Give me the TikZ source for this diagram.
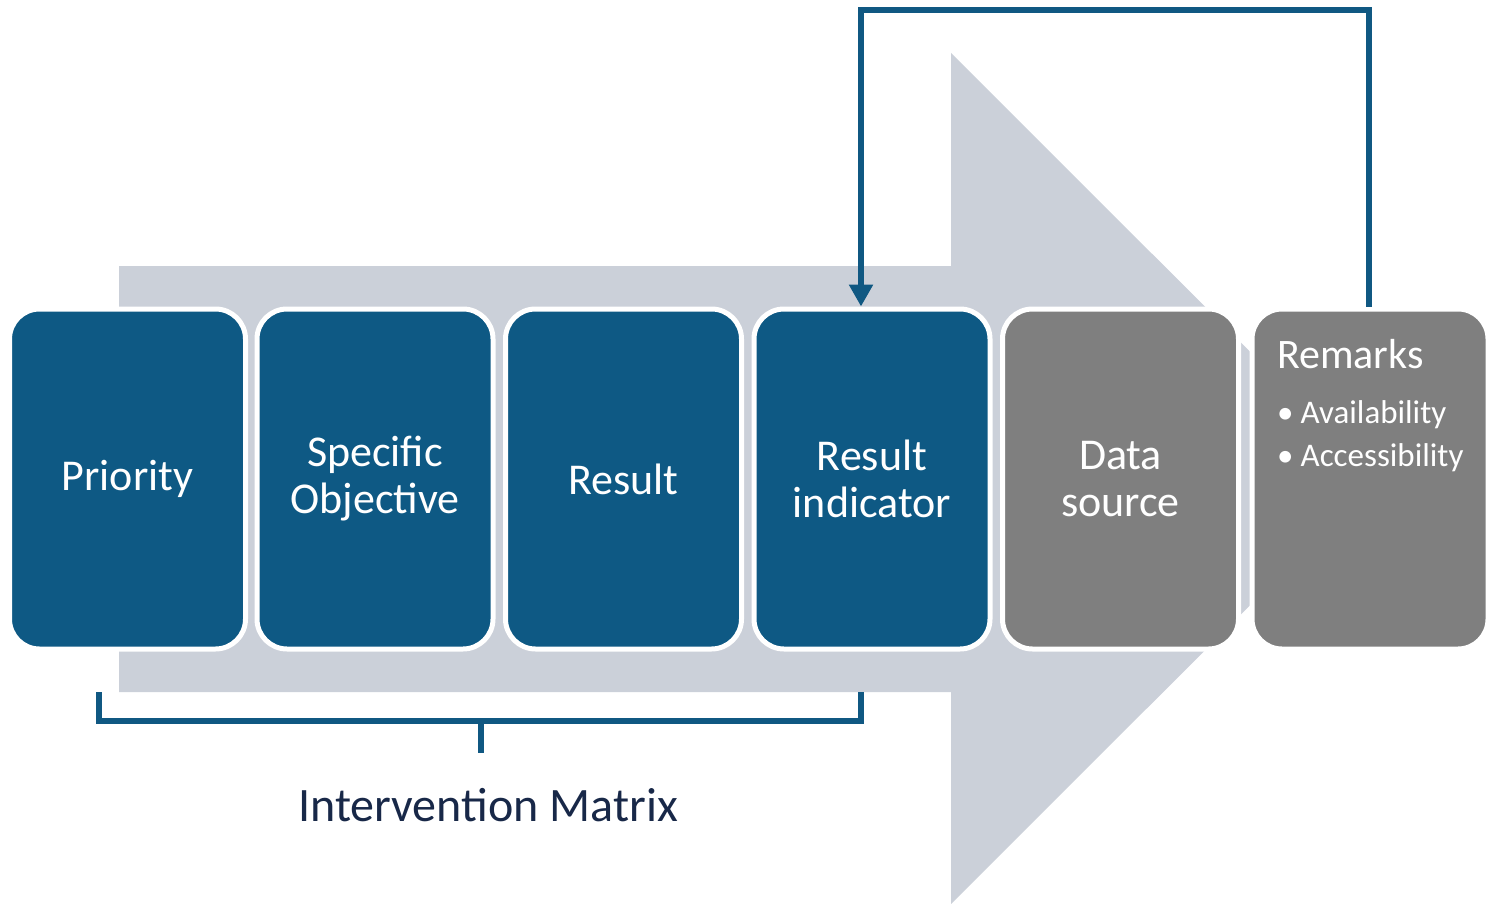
\documentclass[tikz,border=0pt]{standalone}
\usepackage{fontspec}
\setmainfont{Carlito}
\usetikzlibrary{arrows.meta}
\definecolor{boxblue}{RGB}{14,89,132}
\definecolor{boxgray}{RGB}{127,127,127}
\definecolor{arrowgray}{RGB}{203,208,217}
\definecolor{navytext}{RGB}{24,40,72}
\definecolor{connblue}{RGB}{16,88,130}
\tikzset{
  card/.style={draw=white, line width=5pt, rounded corners=30pt,
    minimum width=236pt, minimum height=340pt, inner sep=0pt,
    text=white, align=center, font=\fontsize{44}{47}\selectfont},
  bluecard/.style={card, fill=boxblue},
  graycard/.style={card, fill=boxgray},
  conn/.style={draw=connblue, line width=5.5pt},
  remhead/.style={text=white, inner sep=0pt, font=\fontsize{42}{45}\selectfont},
  remitem/.style={text=white, inner sep=0pt, font=\fontsize{33}{36}\selectfont},
}
\begin{document}
\begin{tikzpicture}[x=1pt,y=-1pt]
\useasboundingbox (0,0) rectangle (1491,904);
% big background arrow
\fill[arrowgray] (119,266) -- (951,266) -- (951,53) -- (1377,478.5) -- (951,904) -- (951,692) -- (119,692) -- cycle;
% cards
\node[bluecard] (pri) at (127.5,479) {Priority};
\node[bluecard] (so)  at (375,479) {Specific\\Objective};
\node[bluecard] (res) at (623.5,479) {Result};
\node[bluecard] (ri)  at (872,479) {Result\\indicator};
\node[graycard] (ds)  at (1120.5,479) {Data\\source};
\node[graycard] (rem) at (1370,479) {};
% remarks text
\node[remhead, anchor=base west] (remt) at (1277,368) {Remarks};
\node[remitem, anchor=base west] (av) at (1277,423) {\textbullet\hspace{7pt}Availability};
\node[remitem, anchor=base west] (ac) at (1277,466) {\textbullet\hspace{7pt}Accessibility};
% feedback connector
\coordinate (topline) at (0,10);
\coordinate (riin) at ([xshift=-11pt]ri.north);
\coordinate (remout) at ([xshift=-1pt]rem.north);
\draw[conn, -{Triangle[length=22pt,width=23pt]}] (remout) -- (remout |- topline) -- (riin |- topline) -- (riin);
% bracket
\coordinate (bl) at (99,692);
\coordinate (br) at (861,692);
\coordinate (bm) at (481,721);
\coordinate (bs) at (481,753);
\draw[conn] (bl) -- (bl |- bm) -- (br |- bm) -- (br);
\draw[conn] (bm) -- (bs);
\node[text=navytext, inner sep=0pt, font=\fontsize{48}{52}\selectfont] (im) at (488,805) {Intervention Matrix};
\end{tikzpicture}
\end{document}
